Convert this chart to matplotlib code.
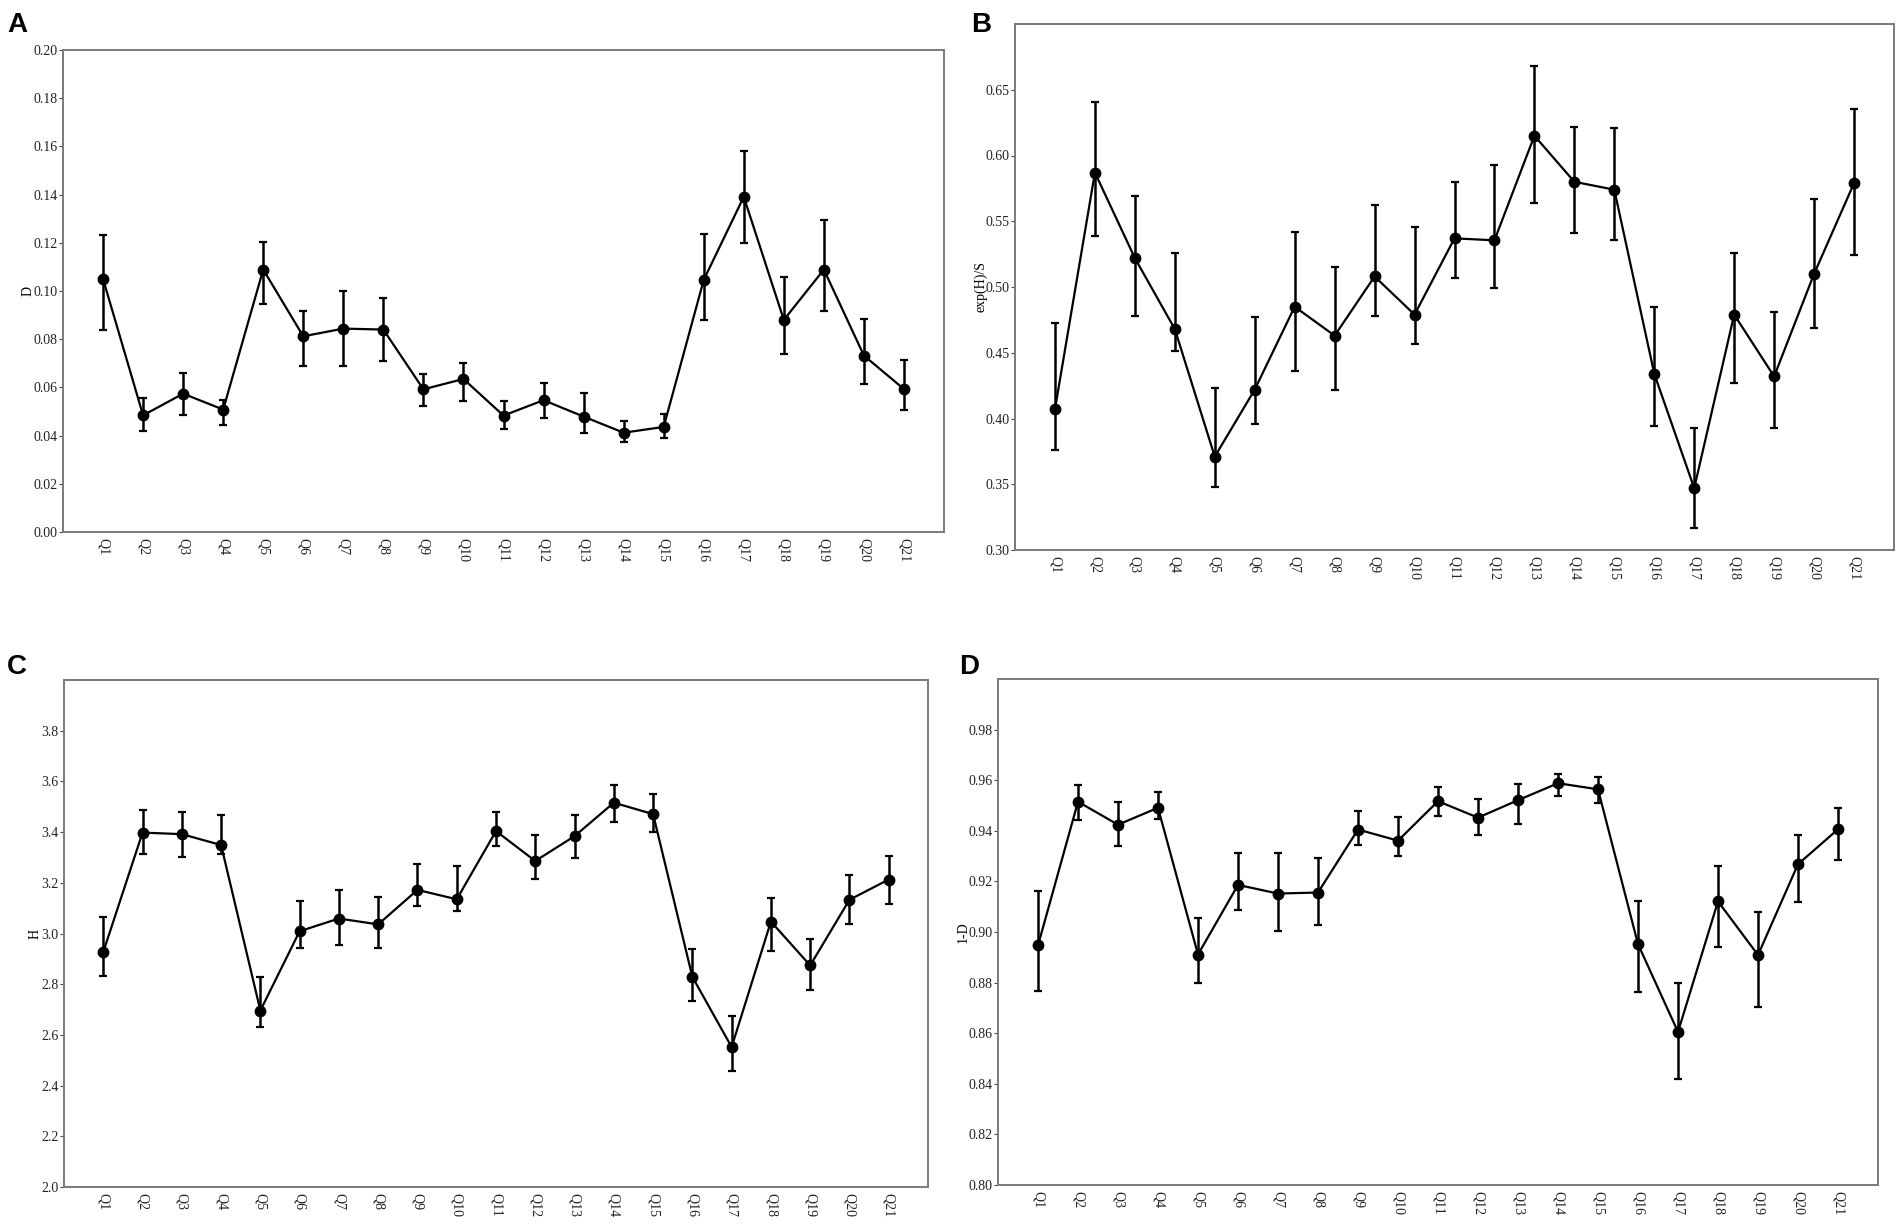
import matplotlib
matplotlib.use("Agg")
import matplotlib.pyplot as plt
import numpy as np

plt.rcParams["font.family"] = ["Liberation Serif", "DejaVu Serif"]

questions = [f"Q{i}" for i in range(1, 22)]

# Panel A: Simpson D
d_mean = [0.1050, 0.0484, 0.0574, 0.0508, 0.1089, 0.0812, 0.0844, 0.0840, 0.0592, 0.0635, 0.0483,
          0.0547, 0.0479, 0.0412, 0.0436, 0.1046, 0.1391, 0.0880, 0.1089, 0.0732, 0.0593]
d_low = [0.0837, 0.0418, 0.0486, 0.0444, 0.0945, 0.0688, 0.0689, 0.0708, 0.0524, 0.0544, 0.0428,
         0.0472, 0.0412, 0.0372, 0.0388, 0.0880, 0.1200, 0.0737, 0.0916, 0.0613, 0.0507]
d_high = [0.1231, 0.0558, 0.0661, 0.0549, 0.1205, 0.0915, 0.0999, 0.0969, 0.0654, 0.0701, 0.0542,
          0.0618, 0.0575, 0.0460, 0.0491, 0.1236, 0.1580, 0.1059, 0.1295, 0.0884, 0.0713]

# Panel B: evenness exp(H)/S
e_mean = [0.407, 0.587, 0.522, 0.468, 0.371, 0.422, 0.485, 0.463, 0.508, 0.479, 0.537,
          0.5355, 0.615, 0.580, 0.574, 0.434, 0.347, 0.479, 0.432, 0.510, 0.579]
e_low = [0.376, 0.539, 0.478, 0.451, 0.348, 0.396, 0.436, 0.422, 0.478, 0.457, 0.507,
         0.499, 0.564, 0.541, 0.536, 0.394, 0.317, 0.427, 0.393, 0.469, 0.524]
e_high = [0.473, 0.641, 0.569, 0.526, 0.423, 0.477, 0.542, 0.515, 0.562, 0.546, 0.580,
          0.593, 0.668, 0.622, 0.621, 0.485, 0.393, 0.526, 0.481, 0.567, 0.635]

# Panel C: Shannon H
h_mean = [2.927, 3.398, 3.392, 3.349, 2.696, 3.009, 3.059, 3.036, 3.172, 3.135, 3.404,
          3.286, 3.384, 3.516, 3.471, 2.829, 2.552, 3.047, 2.874, 3.133, 3.213]
h_low = [2.831, 3.313, 3.303, 3.313, 2.632, 2.943, 2.953, 2.944, 3.110, 3.088, 3.345,
         3.215, 3.298, 3.440, 3.402, 2.732, 2.457, 2.932, 2.779, 3.036, 3.115]
h_high = [3.064, 3.489, 3.481, 3.467, 2.829, 3.130, 3.171, 3.144, 3.274, 3.266, 3.481,
          3.389, 3.467, 3.584, 3.549, 2.938, 2.676, 3.141, 2.980, 3.230, 3.307]

# Panel D: 1-D
s_mean = [0.8947, 0.9515, 0.9424, 0.9491, 0.8911, 0.9186, 0.9152, 0.9156, 0.9405, 0.9361, 0.9517,
          0.9452, 0.9521, 0.9588, 0.9564, 0.8952, 0.8605, 0.9121, 0.8909, 0.9268, 0.9406]
s_low = [0.8765, 0.9444, 0.9338, 0.9448, 0.8797, 0.9085, 0.9002, 0.9029, 0.9345, 0.9300, 0.9458,
         0.9382, 0.9426, 0.9539, 0.9508, 0.8764, 0.8418, 0.8942, 0.8705, 0.9118, 0.9283]
s_high = [0.9161, 0.9583, 0.9512, 0.9555, 0.9056, 0.9312, 0.9311, 0.9291, 0.9477, 0.9456, 0.9573,
          0.9527, 0.9586, 0.9626, 0.9611, 0.9121, 0.8798, 0.9262, 0.9080, 0.9385, 0.9492]

W, H = 1902, 1226


def frame(left, right, top, bottom):
    # pixel box -> figure fraction rect
    return [left / W, 1 - bottom / H, (right - left) / W, (bottom - top) / H]


def draw_panel(ax, mean, low, high, ylim, yticks, fmt, ylabel, label_px):
    x = np.arange(1, len(questions) + 1)
    mean = np.array(mean)
    yerr = [mean - np.array(low), np.array(high) - mean]
    ax.errorbar(x, mean, yerr=yerr, fmt="o-", color="black", ecolor="black",
                markersize=7.5, linewidth=1.6, elinewidth=1.8, capsize=3, capthick=1.6)
    ax.set_xlim(0, 22)
    ax.set_ylim(*ylim)
    ax.set_yticks(yticks)
    ax.set_yticklabels([fmt.format(v) for v in yticks], fontsize=10, color="#222222")
    ax.set_xticks(x)
    ax.set_xticklabels(questions, rotation=270, fontsize=10, color="#222222")
    ax.tick_params(axis="x", length=0, pad=4)
    ax.tick_params(axis="y", length=3, width=0.8, pad=1, color="#444444")
    for sp in ax.spines.values():
        sp.set_color("#7a7a7a")
        sp.set_linewidth(1.4)
    ax.set_ylabel(ylabel, fontsize=10)
    # label sits tight against the tick labels, as in the original
    ax_w = ax.get_position().width * W
    ax.yaxis.set_label_coords(-label_px / ax_w, 0.5)


fig = plt.figure(figsize=(W / 100, H / 100), dpi=100)

ax_a = fig.add_axes(frame(63, 944, 50, 532))
draw_panel(ax_a, d_mean, d_low, d_high, (0, 0.20),
           [round(0.02 * i, 2) for i in range(11)], "{:.2f}", "D", 28)

ax_b = fig.add_axes(frame(1015, 1894, 24, 550))
draw_panel(ax_b, e_mean, e_low, e_high, (0.30, 0.70),
           [0.30, 0.35, 0.40, 0.45, 0.50, 0.55, 0.60, 0.65], "{:.2f}", "exp(H)/S", 28)

ax_c = fig.add_axes(frame(64, 928, 680, 1187))
draw_panel(ax_c, h_mean, h_low, h_high, (2.0, 4.0),
           [2.0, 2.2, 2.4, 2.6, 2.8, 3.0, 3.2, 3.4, 3.6, 3.8], "{:.1f}", "H", 22)

ax_d = fig.add_axes(frame(998, 1878, 679, 1185))
draw_panel(ax_d, s_mean, s_low, s_high, (0.80, 1.00),
           [0.80, 0.82, 0.84, 0.86, 0.88, 0.90, 0.92, 0.94, 0.96, 0.98], "{:.2f}", "1-D", 28)

for lab, px, py in [("A", 7, 32), ("B", 971, 32), ("C", 7, 674), ("D", 959, 674)]:
    fig.text(px / W, 1 - py / H, lab, fontsize=20, fontweight="bold",
             family="Liberation Sans", va="baseline", ha="left")

fig.savefig("out.png", dpi=100)
